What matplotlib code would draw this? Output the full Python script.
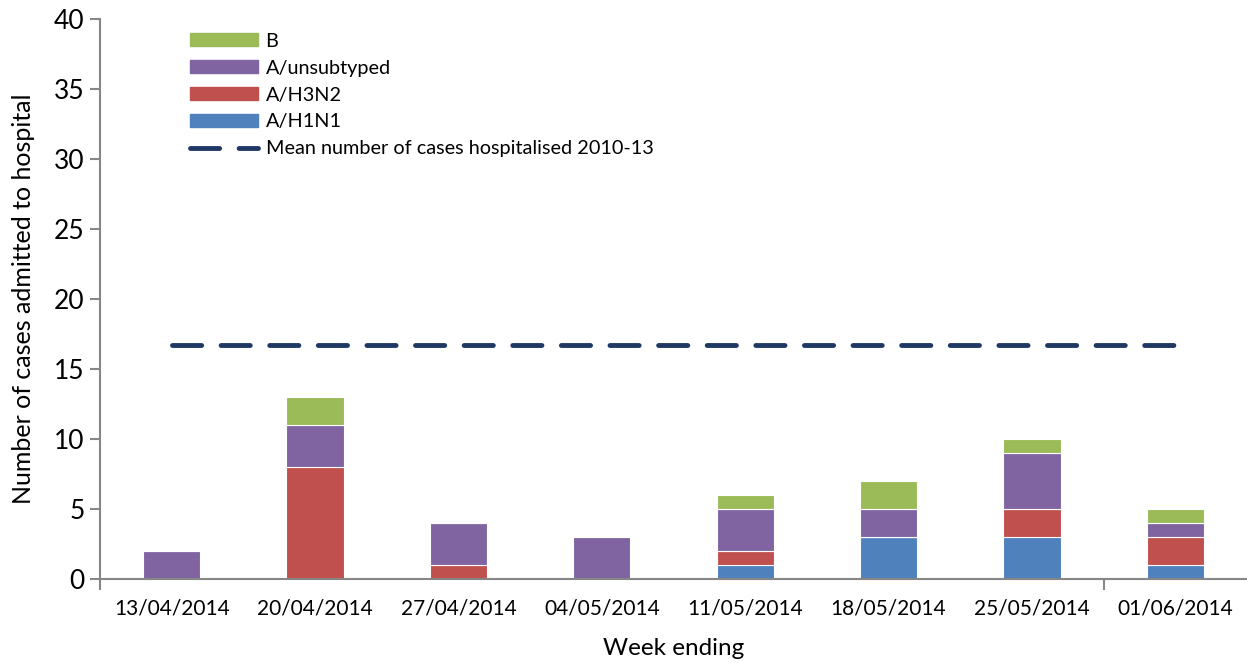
import matplotlib.pyplot as plt
from matplotlib.patches import Patch
from matplotlib.lines import Line2D

plt.rcParams['font.family'] = ['Lato', 'DejaVu Sans']

weeks = ["13/04/2014", "20/04/2014", "27/04/2014", "04/05/2014",
         "11/05/2014", "18/05/2014", "25/05/2014", "01/06/2014"]
h1n1 = [0, 0, 0, 0, 1, 3, 3, 1]
h3n2 = [0, 8, 1, 0, 1, 0, 2, 2]
unsub = [2, 3, 3, 3, 3, 2, 4, 1]
flu_b = [0, 2, 0, 0, 1, 2, 1, 1]
mean_2010_13 = 16.7

c_h1 = "#4F81BD"
c_h3 = "#C0504D"
c_un = "#8064A2"
c_b = "#9BBB59"
c_mean = "#1F3864"
grey = "#868686"

fig = plt.figure(figsize=(12.47, 6.64), dpi=100)
ax = fig.add_axes([0.0802, 0.128, 0.9198, 0.843])

x = list(range(len(weeks)))
w = 0.4
b1 = h1n1
b2 = [a + b for a, b in zip(b1, h3n2)]
b3 = [a + b for a, b in zip(b2, unsub)]
ax.bar(x, h1n1, width=w, color=c_h1, edgecolor="white", linewidth=0.8)
ax.bar(x, h3n2, width=w, bottom=b1, color=c_h3, edgecolor="white", linewidth=0.8)
ax.bar(x, unsub, width=w, bottom=b2, color=c_un, edgecolor="white", linewidth=0.8)
ax.bar(x, flu_b, width=w, bottom=b3, color=c_b, edgecolor="white", linewidth=0.8)
ax.plot([x[0], x[-1]], [mean_2010_13] * 2, color=c_mean, lw=3.5,
        dashes=(6, 4), solid_capstyle="round", dash_capstyle="round")

ax.set_xlim(-0.5, len(weeks) - 0.5)
ax.set_ylim(0, 40)
ax.set_yticks(range(0, 41, 5))
ax.set_xticks(x)
ax.set_xticklabels(weeks, fontsize=15)
ax.set_xticks([-0.5, 6.5], minor=True)
ax.tick_params(axis="x", which="major", length=0, pad=14)
ax.tick_params(axis="x", which="minor", length=8, color=grey, width=1.5)
ax.tick_params(axis="y", labelsize=19, length=7, color=grey, width=1.5, pad=4)

for s in ["top", "right"]:
    ax.spines[s].set_visible(False)
for s in ["left", "bottom"]:
    ax.spines[s].set_color(grey)
    ax.spines[s].set_linewidth(1.5)

ax.set_ylabel("Number of cases admitted to hospital", fontsize=18, labelpad=14)
ax.set_xlabel("Week ending", fontsize=17.5, labelpad=14)

handles = [Patch(color=c_b), Patch(color=c_un), Patch(color=c_h3), Patch(color=c_h1),
           Line2D([0], [0], color=c_mean, lw=3.5, dashes=(6, 4), dash_capstyle="round")]
labels = ["B", "A/unsubtyped", "A/H3N2", "A/H1N1", "Mean number of cases hospitalised 2010-13"]
ax.legend(handles, labels, loc="upper left", bbox_to_anchor=(0.063, 1.008), frameon=False,
          fontsize=14.3, handlelength=3.4, handleheight=0.6, labelspacing=0.5,
          handletextpad=0.4, borderpad=0.4)

fig.savefig("out.png", dpi=100)
